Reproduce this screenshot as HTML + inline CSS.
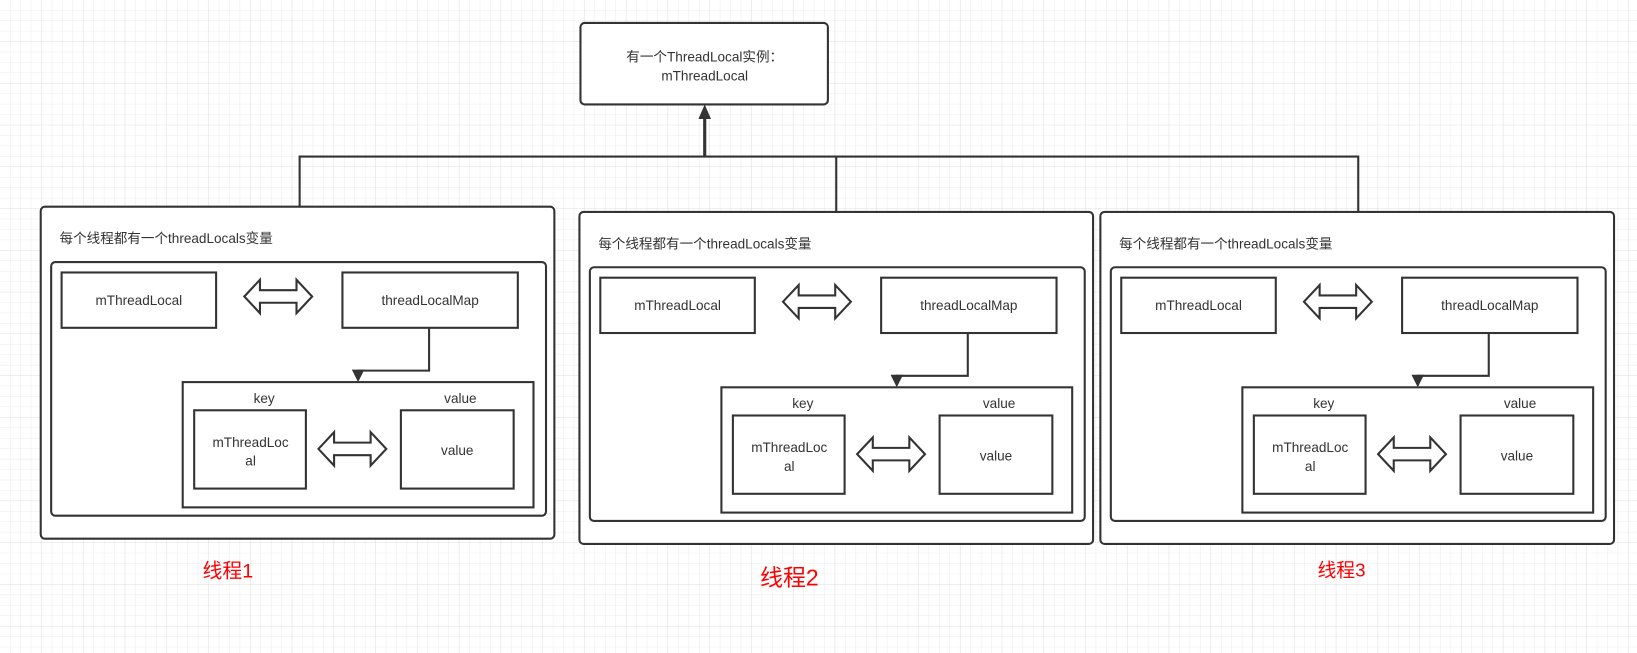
<!DOCTYPE html>
<html><head><meta charset="utf-8"><style>
html,body{margin:0;padding:0;background:#fff}
svg{display:block}
text{font-family:"Liberation Sans","Noto Sans CJK SC",sans-serif;fill:#333;font-size:13px}
</style></head><body>
<svg width="1637" height="653" viewBox="0 0 1568 625.5" preserveAspectRatio="none" xmlns="http://www.w3.org/2000/svg">
<defs>
<pattern id="g" width="10" height="10" patternUnits="userSpaceOnUse"><path d="M10 0V10H0" fill="none" stroke="#ececec" stroke-width="1"/></pattern>
<pattern id="G" width="40" height="40" patternUnits="userSpaceOnUse"><rect width="40" height="40" fill="url(#g)"/><path d="M40 0V40H0" fill="none" stroke="#dedede" stroke-width="1"/></pattern>
<g id="da"><polygon points="0,16 15,0 15,10 50,10 50,0 65,16 50,32 50,22 15,22 15,32" fill="#fff" stroke="#333" stroke-width="2" stroke-linejoin="miter"/></g>
<g id="th">
<rect x="39" y="198" width="492" height="318" rx="4" fill="#fff" stroke="#333" stroke-width="2"/>
<text x="57" y="233">每个线程都有一个threadLocals变量</text>
<rect x="49" y="251" width="474" height="243" rx="4" fill="#fff" stroke="#333" stroke-width="2"/>
<rect x="59" y="261" width="148" height="53" fill="#fff" stroke="#333" stroke-width="2"/>
<text x="133" y="292" text-anchor="middle">mThreadLocal</text>
<use href="#da" x="234" y="268"/>
<rect x="328" y="261" width="168" height="53" fill="#fff" stroke="#333" stroke-width="2"/>
<text x="412" y="292" text-anchor="middle">threadLocalMap</text>
<path d="M411 314V355H343V356" fill="none" stroke="#333" stroke-width="2"/>
<polygon points="337,354 349,354 343,366" fill="#333"/>
<rect x="175" y="366" width="336" height="120" fill="#fff" stroke="#333" stroke-width="2"/>
<text x="253" y="386" text-anchor="middle">key</text>
<text x="441" y="386" text-anchor="middle">value</text>
<rect x="186" y="393" width="107" height="75" fill="#fff" stroke="#333" stroke-width="2"/>
<text x="240" y="428" text-anchor="middle">mThreadLoc</text>
<text x="240" y="446" text-anchor="middle">al</text>
<use href="#da" x="305" y="414"/>
<rect x="384" y="393" width="108" height="75" fill="#fff" stroke="#333" stroke-width="2"/>
<text x="438" y="436" text-anchor="middle">value</text>
</g>
</defs>
<rect width="1568" height="626" fill="url(#G)"/>
<path d="M287 198V150H1301V203M801 150V203" fill="none" stroke="#333" stroke-width="2"/>
<path d="M675 150V112" stroke="#333" stroke-width="3"/>
<polygon points="669,114 681,114 675,100" fill="#333"/>
<rect x="556" y="22" width="237" height="78" rx="4" fill="#fff" stroke="#333" stroke-width="2"/>
<text x="675" y="59" text-anchor="middle">有一个ThreadLocal实例：</text>
<text x="675" y="77" text-anchor="middle">mThreadLocal</text>
<use href="#th"/>
<use href="#th" x="516" y="5"/>
<use href="#th" x="1015" y="5"/>
<text x="194" y="553" style="fill:#f00;font-size:19px">线程1</text>
<text x="728" y="561" style="fill:#f00;font-size:22px">线程2</text>
<text x="1262" y="552" style="fill:#f00;font-size:18px">线程3</text>
</svg>
</body></html>
